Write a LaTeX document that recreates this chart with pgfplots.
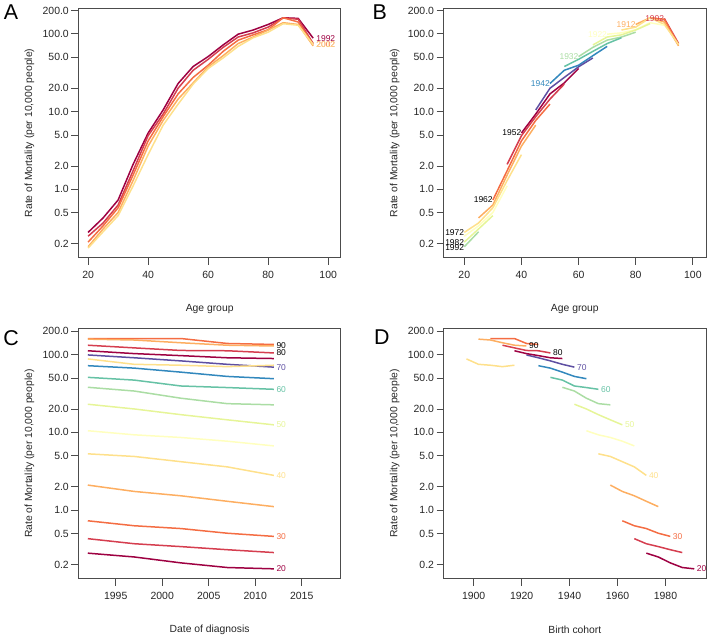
\documentclass[border=0pt]{standalone}
\usepackage{pgfplots}
\pgfplotsset{compat=1.18}
\usepackage{pgfplotstable}
\usepackage{fontspec}
\setmainfont{Liberation Sans}

\definecolor{sp1}{HTML}{9E0142}
\definecolor{sp2}{HTML}{D53E4F}
\definecolor{sp3}{HTML}{F46D43}
\definecolor{sp4}{HTML}{FDAE61}
\definecolor{sp5}{HTML}{FEE08B}
\definecolor{sp6}{HTML}{FFFFBF}
\definecolor{sp7}{HTML}{E6F598}
\definecolor{sp8}{HTML}{ABDDA4}
\definecolor{sp9}{HTML}{66C2A5}
\definecolor{sp10}{HTML}{3288BD}
\definecolor{sp11}{HTML}{5E4FA2}

% rate of mortality by age group (rows) and period (columns)
\pgfplotstableread{
age p1992 p1997 p2002 p2007 p2012
20 0.28 0.25 0.21 0.183 0.176
25 0.43 0.37 0.34 0.31 0.285
30 0.73 0.63 0.58 0.505 0.46
35 2.1 1.74 1.53 1.30 1.11
40 5.3 4.9 4.2 3.6 2.8
45 10.5 9.3 8.6 7.7 6.7
50 23.0 20.0 16.9 14.5 12.5
55 38 34 27.5 23.4 22.6
60 51 47 39.5 37.7 35.8
65 72 67 59.5 52.4 49
70 99 91 83 75 69
75 112 103 97 91 89
80 132 122 113 112 105
85 161 161 161 139 135
90 158 154 142 132 129
95 88 75 73 70 73
}\byage

% same values by period (rows) and age group (columns)
\pgfplotstableread{
period a20 a25 a30 a35 a40 a45 a50 a55 a60 a65 a70 a75 a80 a85 a90 a95
1992 0.28 0.43 0.73 2.1 5.3 10.5 23.0 38 51 72 99 112 132 161 158 88
1997 0.25 0.37 0.63 1.74 4.9 9.3 20.0 34 47 67 91 103 122 161 154 75
2002 0.21 0.34 0.58 1.53 4.2 8.6 16.9 27.5 39.5 59.5 83 97 113 161 142 73
2007 0.183 0.31 0.505 1.30 3.6 7.7 14.5 23.4 37.7 52.4 75 91 112 139 132 70
2012 0.176 0.285 0.46 1.11 2.8 6.7 12.5 22.6 35.8 49 69 89 105 135 129 73
}\byperiod

\tikzset{lbl/.style={font=\fontsize{8.5}{10}\selectfont, inner sep=0pt}}

\pgfplotsset{
  mypanel/.style={
    scale only axis, width=262.5bp, height=250bp,
    ymin=0.132, ymax=215,
    ytick={0.2,0.5,1,2,5,10,20,50,100,200},
    yticklabels={0.2,0.5,1.0,2.0,5.0,10.0,20.0,50.0,100.0,200.0},
    yminorticks=false, xminorticks=false,
    tick pos=left, tick align=outside, major tick length=7bp,
    axis line style={black!70, line width=0.8bp},
    every tick/.style={black!70, line width=0.8bp},
    x tick label style={font=\fontsize{10.5}{12}\selectfont, text=black!85, anchor=north, inner sep=0pt, yshift=-6.5bp},
    y tick label style={font=\fontsize{10.5}{12}\selectfont, text=black!85, anchor=east, inner sep=0pt, xshift=-2.5bp},
    /pgf/number format/assume math mode=true,
    /pgf/number format/1000 sep={},
    ylabel={Rate of Mortality (per 10,000 people)},
    every axis y label/.style={at={(axis description cs:0,0.5)}, xshift=-49bp, rotate=90, anchor=center, font=\fontsize{10.4}{12}\selectfont, text=black!85},
    every axis x label/.style={at={(axis description cs:0.5,0)}, yshift=-51bp, anchor=center, font=\fontsize{10.4}{12}\selectfont, text=black!85},
    no markers, clip=false,
    every axis plot/.append style={line width=1.5bp, line join=round},
  },
}

\begin{document}
\begin{tikzpicture}
\path (0,0) rectangle (708bp,637bp);

% ---------------- A ----------------
\begin{axis}[ymode=log, mypanel, at={(78bp,379bp)}, anchor=south west,
  xmin=16.8, xmax=104.2, xtick={20,40,60,80,100}, xlabel={Age group}]
\addplot[sp1] table[x=age,y=p1992]{\byage};
\addplot[sp2] table[x=age,y=p1997]{\byage};
\addplot[sp3] table[x=age,y=p2002]{\byage};
\addplot[sp4] table[x=age,y=p2007]{\byage};
\addplot[sp5] table[x=age,y=p2012]{\byage};
\node[lbl, anchor=west, text=sp1, xshift=3bp] at (axis cs:95,88) {1992};
\node[lbl, anchor=west, text=sp3, xshift=3bp] at (axis cs:95,73) {2002};
\node[lbl, anchor=west, text=sp5, xshift=3bp] at (axis cs:95,73) {2012};
\end{axis}

% ---------------- B ----------------
\begin{axis}[ymode=log, mypanel, at={(443.5bp,379bp)}, anchor=south west,
  xmin=12.8, xmax=104.6, xtick={20,40,60,80,100}, xlabel={Age group}]
\addplot[sp2] coordinates {(90,158) (95,75)};
\addplot[sp3] coordinates {(85,161) (90,154) (95,73)};
\addplot[sp4] coordinates {(80,132) (85,161) (90,142) (95,70)};
\addplot[sp5] coordinates {(75,112) (80,122) (85,161) (90,132) (95,73)};
\addplot[sp6] coordinates {(70,99) (75,103) (80,113) (85,139) (90,129)};
\addplot[sp7] coordinates {(65,72) (70,91) (75,97) (80,112) (85,135)};
\addplot[sp8] coordinates {(60,51) (65,67) (70,83) (75,91) (80,105)};
\addplot[sp9] coordinates {(55,38) (60,47) (65,59.5) (70,75) (75,89)};
\addplot[sp10] coordinates {(50,23.0) (55,34) (60,39.5) (65,52.4) (70,69)};
\addplot[sp11] coordinates {(45,10.5) (50,20.0) (55,27.5) (60,37.7) (65,49)};
\addplot[sp1] coordinates {(40,5.3) (45,9.3) (50,16.9) (55,23.4) (60,35.8)};
\addplot[sp2] coordinates {(35,2.1) (40,4.9) (45,8.6) (50,14.5) (55,22.6)};
\addplot[sp3] coordinates {(30,0.73) (35,1.74) (40,4.2) (45,7.7) (50,12.5)};
\addplot[sp4] coordinates {(25,0.43) (30,0.63) (35,1.53) (40,3.6) (45,6.7)};
\addplot[sp5] coordinates {(20,0.28) (25,0.37) (30,0.58) (35,1.30) (40,2.8)};
\addplot[sp6] coordinates {(20,0.25) (25,0.34) (30,0.505) (35,1.11)};
\addplot[sp7] coordinates {(20,0.21) (25,0.31) (30,0.46)};
\addplot[sp8] coordinates {(20,0.183) (25,0.285)};
\node[lbl, anchor=east, text=sp2] at (axis cs:90,158) {1902};
\node[lbl, anchor=east, text=sp4] at (axis cs:80,132) {1912};
\node[lbl, anchor=east, text=sp6] at (axis cs:70,99) {1922};
\node[lbl, anchor=east, text=sp8] at (axis cs:60,51) {1932};
\node[lbl, anchor=east, text=sp10] at (axis cs:50,23.0) {1942};
\node[lbl, anchor=east, text=black] at (axis cs:40,5.3) {1952};
\node[lbl, anchor=east, text=black] at (axis cs:30,0.73) {1962};
\node[lbl, anchor=east, text=black] at (axis cs:20,0.28) {1972};
\node[lbl, anchor=east, text=black] at (axis cs:20,0.21) {1982};
\node[lbl, anchor=east, text=black] at (axis cs:20,0.176) {1992};
\end{axis}

% ---------------- C ----------------
\begin{axis}[ymode=log, mypanel, at={(78bp,58bp)}, anchor=south west,
  xmin=1991, xmax=2019.2, xtick={1995,2000,2005,2010,2015}, xlabel={Date of diagnosis}]
\addplot[sp1] table[x=period,y=a20]{\byperiod};
\addplot[sp2] table[x=period,y=a25]{\byperiod};
\addplot[sp3] table[x=period,y=a30]{\byperiod};
\addplot[sp4] table[x=period,y=a35]{\byperiod};
\addplot[sp5] table[x=period,y=a40]{\byperiod};
\addplot[sp6] table[x=period,y=a45]{\byperiod};
\addplot[sp7] table[x=period,y=a50]{\byperiod};
\addplot[sp8] table[x=period,y=a55]{\byperiod};
\addplot[sp9] table[x=period,y=a60]{\byperiod};
\addplot[sp10] table[x=period,y=a65]{\byperiod};
\addplot[sp11] table[x=period,y=a70]{\byperiod};
\addplot[sp1] table[x=period,y=a75]{\byperiod};
\addplot[sp2] table[x=period,y=a80]{\byperiod};
\addplot[sp3] table[x=period,y=a85]{\byperiod};
\addplot[sp4] table[x=period,y=a90]{\byperiod};
\addplot[sp5] table[x=period,y=a95]{\byperiod};
\node[lbl, anchor=west, text=sp1, xshift=2.5bp] at (axis cs:2012,0.176) {20};
\node[lbl, anchor=west, text=sp3, xshift=2.5bp] at (axis cs:2012,0.46) {30};
\node[lbl, anchor=west, text=sp5, xshift=2.5bp] at (axis cs:2012,2.8) {40};
\node[lbl, anchor=west, text=sp7, xshift=2.5bp] at (axis cs:2012,12.5) {50};
\node[lbl, anchor=west, text=sp9, xshift=2.5bp] at (axis cs:2012,35.8) {60};
\node[lbl, anchor=west, text=sp11, xshift=2.5bp] at (axis cs:2012,69) {70};
\node[lbl, anchor=west, text=black, xshift=2.5bp] at (axis cs:2012,105) {80};
\node[lbl, anchor=west, text=black, xshift=2.5bp] at (axis cs:2012,129) {90};
\end{axis}

% ---------------- D ----------------
\begin{axis}[ymode=log, mypanel, at={(443.5bp,58bp)}, anchor=south west,
  xmin=1887.5, xmax=1996.9, xtick={1900,1920,1940,1960,1980}, xlabel={Birth cohort}]
\addplot[sp1] table[x expr=\thisrow{period}-20,y=a20]{\byperiod};
\addplot[sp2] table[x expr=\thisrow{period}-25,y=a25]{\byperiod};
\addplot[sp3] table[x expr=\thisrow{period}-30,y=a30]{\byperiod};
\addplot[sp4] table[x expr=\thisrow{period}-35,y=a35]{\byperiod};
\addplot[sp5] table[x expr=\thisrow{period}-40,y=a40]{\byperiod};
\addplot[sp6] table[x expr=\thisrow{period}-45,y=a45]{\byperiod};
\addplot[sp7] table[x expr=\thisrow{period}-50,y=a50]{\byperiod};
\addplot[sp8] table[x expr=\thisrow{period}-55,y=a55]{\byperiod};
\addplot[sp9] table[x expr=\thisrow{period}-60,y=a60]{\byperiod};
\addplot[sp10] table[x expr=\thisrow{period}-65,y=a65]{\byperiod};
\addplot[sp11] table[x expr=\thisrow{period}-70,y=a70]{\byperiod};
\addplot[sp1] table[x expr=\thisrow{period}-75,y=a75]{\byperiod};
\addplot[sp2] table[x expr=\thisrow{period}-80,y=a80]{\byperiod};
\addplot[sp3] table[x expr=\thisrow{period}-85,y=a85]{\byperiod};
\addplot[sp4] table[x expr=\thisrow{period}-90,y=a90]{\byperiod};
\addplot[sp5] table[x expr=\thisrow{period}-95,y=a95]{\byperiod};
\node[lbl, anchor=west, text=sp1, xshift=2.5bp] at (axis cs:1992,0.176) {20};
\node[lbl, anchor=west, text=sp3, xshift=2.5bp] at (axis cs:1982,0.46) {30};
\node[lbl, anchor=west, text=sp5, xshift=2.5bp] at (axis cs:1972,2.8) {40};
\node[lbl, anchor=west, text=sp7, xshift=2.5bp] at (axis cs:1962,12.5) {50};
\node[lbl, anchor=west, text=sp9, xshift=2.5bp] at (axis cs:1952,35.8) {60};
\node[lbl, anchor=west, text=sp11, xshift=2.5bp] at (axis cs:1942,69) {70};
\node[lbl, anchor=west, text=black, xshift=2.5bp] at (axis cs:1932,105) {80};
\node[lbl, anchor=west, text=black, xshift=2.5bp] at (axis cs:1922,129) {90};
\end{axis}

\node[font=\fontsize{21.5}{24}\selectfont] at (10.5bp,624.5bp) {A};
\node[font=\fontsize{21.5}{24}\selectfont] at (379.5bp,625bp) {B};
\node[font=\fontsize{21.5}{24}\selectfont] at (10.5bp,299bp) {C};
\node[font=\fontsize{21.5}{24}\selectfont] at (381.5bp,299.5bp) {D};
\end{tikzpicture}
\end{document}
